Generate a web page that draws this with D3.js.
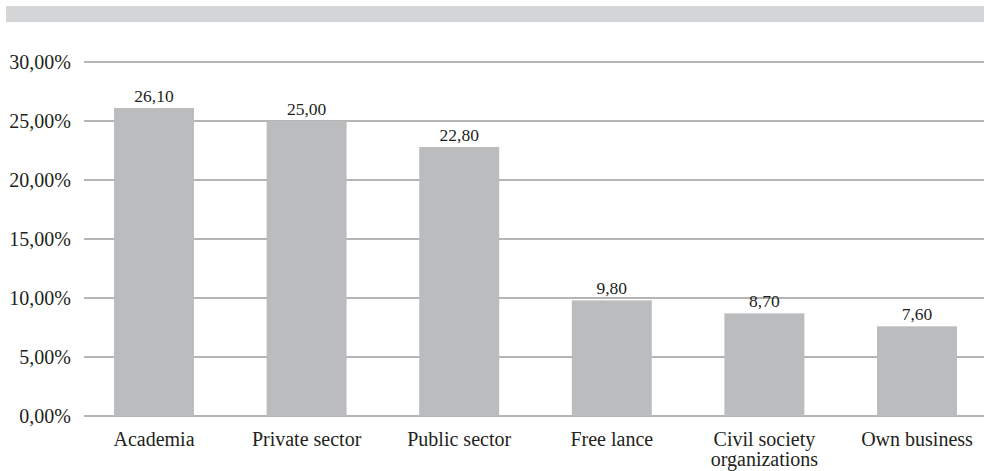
<!DOCTYPE html>
<html>
<head>
<meta charset="utf-8">
<script src="https://cdn.jsdelivr.net/npm/d3@7"></script>
<style>
  html, body { margin: 0; padding: 0; background: #fff; }
  svg { display: block; }
</style>
</head>
<body>
<svg id="chart" width="984" height="471"></svg>
<script>
// Share of respondents by type of employer (%)
const categories = ["Academia", "Private sector", "Public sector", "Free lance", "Civil society organizations", "Own business"];
const values = [26.10, 25.00, 22.80, 9.80, 8.70, 7.60];
const yTicks = [0, 5, 10, 15, 20, 25, 30];

const FONT = "Liberation Serif";
const INK = "#231f20";

const svg = d3.select("#chart");
const W = 984;

// header band
svg.append("rect")
  .attr("x", 6).attr("y", 6)
  .attr("width", W - 6).attr("height", 16)
  .attr("fill", "#d4d5d6");

const y = d3.scaleLinear().domain([0, 30]).range([416, 62]);
const x = d3.scaleBand()
  .domain(categories)
  .range([77.7, 993.3])
  .paddingInner(0.476)
  .paddingOuter(0.238);

const fmt = v => d3.format(".2f")(v).replace(".", ",");

// gridlines
svg.append("g")
  .selectAll("line")
  .data(yTicks)
  .join("line")
  .attr("x1", 84).attr("x2", 984)
  .attr("y1", d => y(d)).attr("y2", d => y(d))
  .attr("stroke", "#9c9c9c")
  .attr("stroke-width", 1.6);

// y tick labels
const yAxis = d3.axisLeft(y).tickValues(yTicks).tickSize(0).tickPadding(0)
  .tickFormat(d => fmt(d) + "%");
svg.append("g")
  .attr("transform", "translate(71,0)")
  .call(yAxis)
  .call(g => g.select(".domain").remove())
  .call(g => g.selectAll("text")
    .style("font-family", FONT)
    .style("font-size", "20px")
    .attr("fill", INK)
    .attr("dy", "0.32em"));

// bars
svg.append("g")
  .selectAll("rect")
  .data(values)
  .join("rect")
  .attr("x", (d, i) => x(categories[i]))
  .attr("width", x.bandwidth())
  .attr("y", d => y(d))
  .attr("height", d => y(0) - y(d))
  .attr("fill", "#bbbcbe");

// value labels
svg.append("g")
  .selectAll("text")
  .data(values)
  .join("text")
  .attr("x", (d, i) => x(categories[i]) + x.bandwidth() / 2)
  .attr("y", d => y(d) - 6)
  .attr("text-anchor", "middle")
  .attr("fill", INK)
  .style("font-family", FONT)
  .style("font-size", "17.5px")
  .text(d => fmt(d));

// category labels (wrapped where needed)
const wrap = { "Civil society organizations": ["Civil society", "organizations"] };
const xl = svg.append("g");
categories.forEach(c => {
  const lines = wrap[c] || [c];
  const cx = x(c) + x.bandwidth() / 2;
  const t = xl.append("text")
    .attr("x", cx)
    .attr("y", 446)
    .attr("text-anchor", "middle")
    .attr("fill", INK)
    .style("font-family", FONT)
    .style("font-size", "20px");
  lines.forEach((l, i) => {
    t.append("tspan")
      .attr("x", cx)
      .attr("dy", i === 0 ? 0 : 19.5)
      .text(l);
  });
});
</script>
</body>
</html>
